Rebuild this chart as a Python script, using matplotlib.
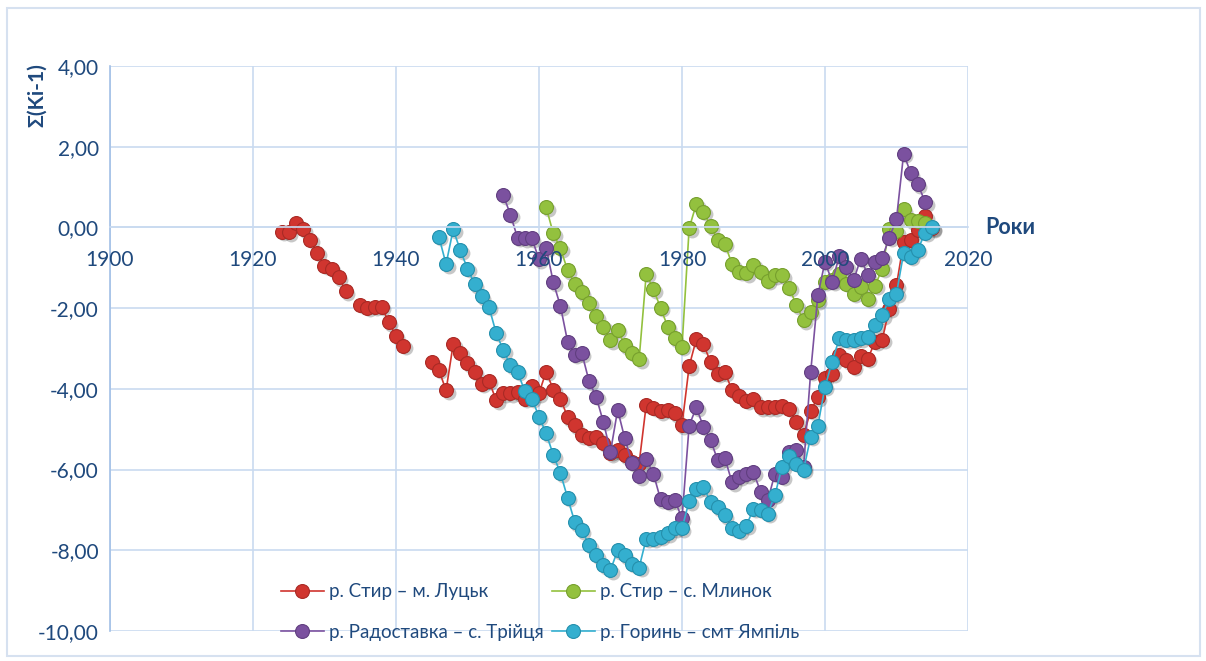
import numpy as np
import matplotlib.pyplot as plt
from matplotlib.patches import Rectangle
from matplotlib.transforms import offset_copy

plt.rcParams['font.family'] = ['Lato', 'DejaVu Sans']

nan = np.nan

# cumulative deviation curves, one value per year (nan = no observation)
red_years = list(range(1924, 2016))
red_vals = [-0.11, -0.12, 0.11, -0.05, -0.31, -0.63, -0.95, -1.02, -1.24, -1.58,
            nan, -1.91, -1.99, -1.97, -1.97, -2.35, -2.69, -2.93, nan, nan,
            nan, -3.33, -3.53, -4.04, -2.89, -3.11, -3.37, -3.58, -3.87, -3.80,
            -4.28, -4.11, -4.11, -4.09, -4.24, -3.93, -4.11, -3.57, -4.02, -4.24,
            -4.70, -4.90, -5.15, -5.23, -5.19, -5.35, -5.60, -5.52, -5.64, -5.81,
            -5.85, -4.39, -4.47, -4.56, -4.52, -4.61, -4.90, -3.44, -2.77, -2.90,
            -3.33, -3.62, -3.59, -4.03, -4.17, -4.29, -4.25, -4.45, -4.46, -4.45,
            -4.42, -4.49, -4.82, -5.15, -4.54, -4.21, -3.72, -3.62, -3.16, -3.29,
            -3.45, -3.19, -3.25, -2.83, -2.78, -2.01, -1.43, -0.36, -0.31, -0.07,
            0.28, -0.02]

green_years = list(range(1961, 2015))
green_vals = [0.50, -0.15, -0.52, -1.06, -1.39, -1.60, -1.87, -2.20, -2.46, -2.79,
              -2.53, -2.92, -3.11, -3.27, -1.15, -1.53, -1.99, -2.46, -2.74, -2.96,
              -0.02, 0.58, 0.39, 0.03, -0.31, -0.41, -0.91, -1.10, -1.14, -0.93,
              -1.10, -1.32, -1.19, -1.19, -1.49, -1.93, -2.30, -2.09, -1.80, -1.35,
              -1.30, -1.15, -1.40, -1.64, -1.48, -1.77, -1.45, -1.02, -0.05, -0.10,
              0.45, 0.18, 0.15, 0.10]

purple_years = list(range(1955, 2015))
purple_vals = [0.80, 0.32, -0.26, -0.27, -0.27, -0.79, -0.50, -1.36, -1.95, -2.83,
               -3.16, -3.12, -3.81, -4.20, -4.82, -5.56, -4.52, -5.23, -5.83, -6.17,
               -5.75, -6.10, -6.74, -6.80, -6.76, -7.21, -4.91, -4.46, -4.94, -5.27,
               -5.77, -5.72, -6.32, -6.18, -6.12, -6.07, -6.55, -6.76, -6.10, -6.18,
               -5.56, -5.52, -5.93, -3.58, -1.68, -0.85, -1.35, -0.71, -0.98, -1.31,
               -0.77, -1.18, -0.85, -0.75, -0.25, 0.21, 1.83, 1.34, 1.07, 0.63]

teal_years = list(range(1946, 2016))
teal_vals = [-0.23, -0.91, -0.05, -0.57, -1.02, -1.41, -1.70, -1.97, -2.61, -3.04,
             -3.41, -3.58, -4.05, -4.24, -4.69, -5.10, -5.64, -6.09, -6.70, -7.30,
             -7.50, -7.87, -8.12, -8.37, -8.49, -8.00, -8.12, -8.33, -8.43, -7.71,
             -7.71, -7.67, -7.58, -7.46, -7.46, -6.78, -6.48, -6.44, -6.80, -6.93,
             -7.13, -7.44, -7.51, -7.39, -6.97, -6.99, -7.09, -6.63, -5.93, -5.67,
             -5.85, -6.01, -5.19, -4.91, -3.95, -3.33, -2.75, -2.78, -2.78, -2.75,
             -2.71, -2.42, -2.17, -1.78, -1.64, -0.63, -0.73, -0.55, -0.13, 0.00]

labels = ['р. Стир – м. Луцьк', 'р. Стир – с. Млинок',
          'р. Радоставка – с. Трійця', 'р. Горинь – смт Ямпіль']

x_ticks = list(range(1900, 2021, 20))
y_ticks = list(range(-10, 5, 2))

txt_c = '#1F497D'
grid_c = '#C9DAF0'

series = [
    (red_years, red_vals, '#D0352F', '#A92A25'),
    (green_years, green_vals, '#93C13E', '#77A02E'),
    (purple_years, purple_vals, '#7B519F', '#613F80'),
    (teal_years, teal_vals, '#34AFCF', '#2590AD'),
]

W, H = 1206, 661
fig = plt.figure(figsize=(W / 100, H / 100), dpi=100)
ax = fig.add_axes([110 / W, 1 - 631 / H, (968 - 110) / W, (631 - 66) / H])
ax.set_xlim(1900, 2020)
ax.set_ylim(-10, 4)

for x in x_ticks:
    ax.axvline(x, color=grid_c, lw=1.2, zorder=0.5)
for y in y_ticks:
    ax.axhline(y, color=grid_c, lw=1.2, zorder=0.5)

# soft drop shadow under the markers
shadow = offset_copy(ax.transData, fig=fig, x=2.5, y=-2.5, units='dots')
for yrs, vals, c, ec in series:
    ax.plot(yrs, vals, ls='none', marker='o', ms=10, mfc='#000000', mec='none',
            alpha=0.22, transform=shadow, zorder=1.8)

handles = []
for (yrs, vals, c, ec), lab in zip(series, labels):
    h, = ax.plot(yrs, vals, color=c, lw=1.2, marker='o', ms=10, mfc=c, mec=ec,
                 mew=0.8, label=lab, zorder=2)
    handles.append(h)

for s in ['top', 'right']:
    ax.spines[s].set_visible(False)
ax.spines['left'].set_color('#A3C0E6')
ax.spines['left'].set_linewidth(1.2)
ax.spines['bottom'].set_position(('data', 0))
ax.spines['bottom'].set_color(grid_c)
ax.spines['bottom'].set_linewidth(1.2)
ax.set_axisbelow(False)

ax.set_xticks(x_ticks)
ax.set_xticklabels([str(x) for x in x_ticks])
ax.set_yticks(y_ticks)
ax.set_yticklabels([f'{v:.2f}'.replace('.', ',') for v in y_ticks])
ax.tick_params(axis='x', length=0, pad=16, labelsize=15, labelcolor=txt_c)
ax.tick_params(axis='y', length=0, pad=8, labelsize=15, labelcolor=txt_c)

fig.text(985 / W, 1 - 227 / H, 'Роки', ha='left', va='center',
         fontsize=15.5, fontweight='bold', color=txt_c)
fig.text(37 / W, 1 - 95 / H, 'Σ(Ki-1)', ha='center', va='center', rotation=90,
         fontsize=15, fontweight='bold', color=txt_c)

# legend: first row Стир pair, second row Радоставка / Горинь
order = [0, 2, 1, 3]
leg = fig.legend([handles[i] for i in order], [labels[i] for i in order],
                 ncol=2, loc='center', bbox_to_anchor=(540 / W, 1 - 612 / H),
                 frameon=False, fontsize=13.5, handlelength=2.3, handletextpad=0.3,
                 columnspacing=0.4, labelspacing=1.25)
for t in leg.get_texts():
    t.set_color(txt_c)

fig.patches.append(Rectangle((7 / W, 5 / H), (1200 - 7) / W, (653 - 5) / H,
                             transform=fig.transFigure, fill=False,
                             ec='#D6E1F0', lw=1.5))

fig.savefig('out.png', dpi=100)
